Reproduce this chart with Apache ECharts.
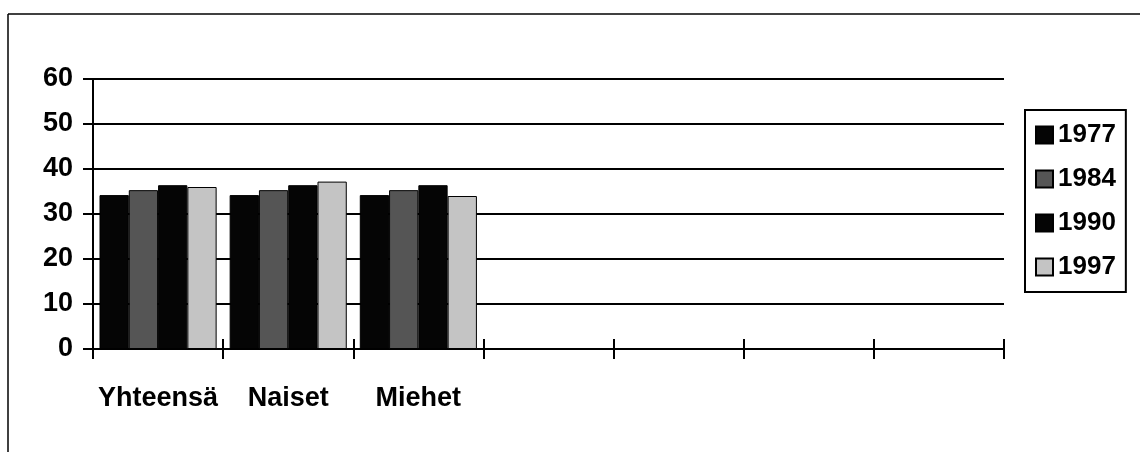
<!DOCTYPE html>
<html>
<head>
<meta charset="utf-8">
<script src="https://cdn.jsdelivr.net/npm/echarts@6/dist/echarts.min.js"></script>
<style>html,body{margin:0;padding:0;background:#fff;}#c{width:1140px;height:452px;}</style>
</head>
<body>
<div id="c"></div>
<script>
const categories = ['Yhteensä', 'Naiset', 'Miehet', '', '', '', ''];
const seriesNames = ['1977', '1984', '1990', '1997'];
const v1977 = [34.2, 34.2, 34.2];
const v1984 = [35.3, 35.3, 35.3];
const v1990 = [36.4, 36.4, 36.4];
const v1997 = [36.0, 37.2, 34.0];
const yTicks = [0, 10, 20, 30, 40, 50, 60];

const colors = ['#050505', '#555555', '#050505', '#c4c4c4'];
const values = [v1977, v1984, v1990, v1997];
const FONT = '"Liberation Sans", Arial, sans-serif';

const chart = echarts.init(document.getElementById('c'), null, {renderer: 'canvas'});
chart.setOption({
  animation: false,
  backgroundColor: '#fff',
  grid: {left: 93, right: 136, top: 79, bottom: 103, containLabel: false},
  legend: {
    orient: 'vertical',
    left: 1025, top: 110,
    padding: [12, 10, 12, 10],
    itemGap: 18,
    itemWidth: 17, itemHeight: 17,
    itemTextGap: 5,
    icon: 'rect',
    borderColor: '#000', borderWidth: 2,
    backgroundColor: '#fff',
    textStyle: {fontFamily: FONT, fontWeight: 'bold', fontSize: 26, color: '#000'},
    data: seriesNames
  },
  xAxis: [{
    type: 'category', data: categories, boundaryGap: true,
    axisLine: {show: true, lineStyle: {color: '#000', width: 2}},
    axisTick: {show: true, interval: 0, length: 10, lineStyle: {color: '#000', width: 2}},
    axisLabel: {interval: 0, margin: 36, fontFamily: FONT, fontWeight: 'bold', fontSize: 27, color: '#000'},
    splitLine: {show: false}
  }, {
    type: 'category', data: categories, boundaryGap: true, position: 'bottom',
    axisLine: {show: false},
    axisTick: {show: true, inside: true, interval: 0, length: 10, lineStyle: {color: '#000', width: 2}},
    axisLabel: {show: false},
    splitLine: {show: false}
  }],
  yAxis: {
    type: 'value', min: yTicks[0], max: yTicks[yTicks.length - 1], interval: 10,
    axisLine: {show: true, lineStyle: {color: '#000', width: 2}},
    axisTick: {show: true, length: 10, lineStyle: {color: '#000', width: 2}},
    axisLabel: {margin: 20, fontFamily: FONT, fontWeight: 'bold', fontSize: 27, color: '#000'},
    splitLine: {show: true, lineStyle: {color: '#000', width: 2}}
  },
  graphic: [
    {type: 'line', shape: {x1: 8, y1: 14, x2: 1140, y2: 14}, style: {stroke: '#000', lineWidth: 1.5}, z: 100},
    {type: 'line', shape: {x1: 8, y1: 14, x2: 8, y2: 452}, style: {stroke: '#000', lineWidth: 1.5}, z: 100}
  ],
  series: seriesNames.map((n, i) => ({
    name: n, type: 'bar', xAxisIndex: 0,
    data: values[i],
    barGap: '0%', barCategoryGap: '10%',
    itemStyle: {color: colors[i], borderColor: '#000', borderWidth: 1},
    z: 3
  }))
});
</script>
</body>
</html>
